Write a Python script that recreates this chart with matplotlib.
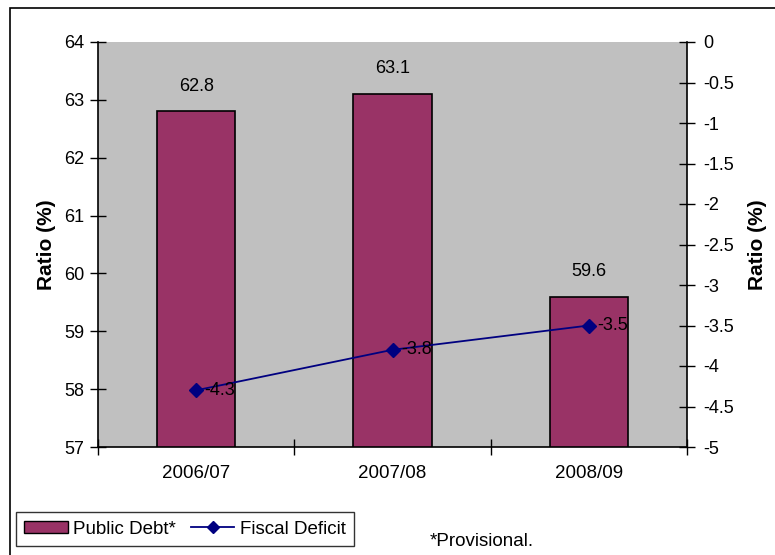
import matplotlib
matplotlib.use("Agg")
import matplotlib.pyplot as plt
from matplotlib.patches import Rectangle
from matplotlib.lines import Line2D

categories = ["2006/07", "2007/08", "2008/09"]
public_debt = [62.8, 63.1, 59.6]
fiscal_deficit = [-4.3, -3.8, -3.5]
left_ticks = [57, 58, 59, 60, 61, 62, 63, 64]
right_ticks = [0, -0.5, -1, -1.5, -2, -2.5, -3, -3.5, -4, -4.5, -5]

plt.rcParams['font.family'] = ['Liberation Sans', 'DejaVu Sans']

W, H = 775, 555
fig = plt.figure(figsize=(W / 100, H / 100), dpi=100)

# outer border
fig.patches.append(Rectangle((10 / W, -0.05), 1.2, 1 - 8 / H + 0.05, transform=fig.transFigure,
                             fill=False, edgecolor='black', linewidth=1.2, zorder=0))

left, right, top, bottom = 98, 687, 42, 447
ax = fig.add_axes([left / W, 1 - bottom / H, (right - left) / W, (bottom - top) / H])
ax.set_facecolor('#C0C0C0')
x = list(range(len(categories)))
bars = ax.bar(x, public_debt, width=0.4, color='#993366', edgecolor='black', linewidth=1.2, zorder=2)
ax.set_xlim(-0.5, len(categories) - 0.5)
ax.set_ylim(57, 64)
ax.set_yticks(left_ticks)
ax.set_xticks(x)
ax.set_xticklabels(categories, fontsize=13.5)
ax.tick_params(axis='x', length=0, pad=13)
ax.set_xticks([-0.5, 0.5, 1.5, 2.5], minor=True)
ax.tick_params(axis='x', which='minor', direction='inout', length=12, width=1)
ax.tick_params(axis='y', direction='inout', length=12, width=1, labelsize=13, pad=4)
for s in ['top', 'right']:
    ax.spines[s].set_visible(False)
for s in ['left', 'bottom']:
    ax.spines[s].set_linewidth(1.2)
ax.set_ylabel("Ratio (%)", fontsize=15, fontweight='bold', labelpad=6)
for xi, v in zip(x, public_debt):
    ax.annotate(f"{v}", (xi, v), xytext=(0, 12), textcoords='offset points',
                ha='center', va='bottom', fontsize=13)

ax2 = ax.twinx()
ax2.plot(x, fiscal_deficit, color='#000080', marker='D', markersize=7, linewidth=1.3, zorder=3)
ax2.set_ylim(-5, 0)
ax2.set_yticks(right_ticks)
ax2.set_yticklabels([f"{t:g}" for t in right_ticks])
ax2.tick_params(axis='y', direction='inout', length=12, width=1, labelsize=13, pad=6)
for s in ['top', 'left', 'bottom']:
    ax2.spines[s].set_visible(False)
ax2.spines['right'].set_linewidth(1.2)
ax2.set_ylabel("Ratio (%)", fontsize=15, fontweight='bold', labelpad=10)
for xi, v in zip(x, fiscal_deficit):
    ax2.annotate(f"{v}", (xi, v), xytext=(6, 0), textcoords='offset points',
                 ha='left', va='center', fontsize=13)

handles = [Rectangle((0, 0), 1, 1, facecolor='#993366', edgecolor='black', linewidth=1),
           Line2D([0], [0], color='#000080', marker='D', markersize=6, linewidth=1.3)]
leg = fig.legend(handles, ["Public Debt*", "Fiscal Deficit"], loc='lower left',
                 bbox_to_anchor=(16 / W, 1 - 546 / H), ncol=2, fontsize=13.5, frameon=True,
                 fancybox=False, edgecolor='black', handlelength=2.3, handleheight=0.6,
                 handletextpad=0.3, columnspacing=0.8, borderpad=0.45, borderaxespad=0)
leg.get_frame().set_linewidth(1)
fig.text(430 / W, 1 - 541 / H, "*Provisional.", fontsize=13.5, va='center', ha='left')

fig.savefig("out.png", dpi=100)
